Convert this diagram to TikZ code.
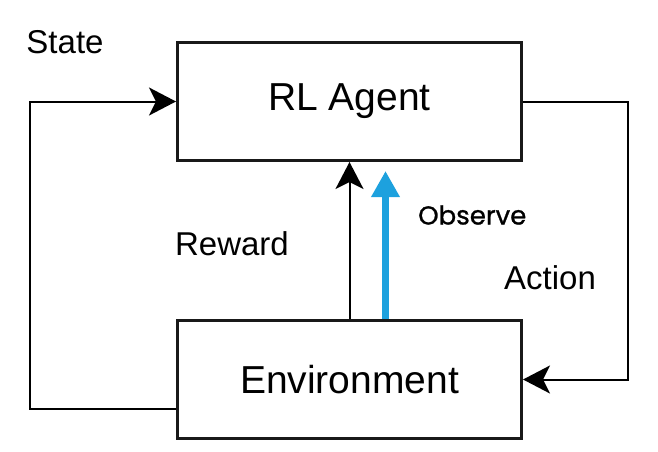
\documentclass[tikz,border=0pt]{standalone}
\usepackage{fontspec}
\setmainfont{Liberation Sans}
\newfontfamily\obsfont[FakeBold=1]{Poppins}
\usetikzlibrary{positioning,arrows.meta}
\definecolor{observeblue}{RGB}{29,161,222}

\begin{document}
\begin{tikzpicture}[x=1pt, y=-1pt,
				block/.style={rectangle, draw=black!90, line width=3pt, minimum width=344pt, minimum height=118pt, font=\fontsize{39}{44}\selectfont},
				label/.style={rectangle, inner sep=0pt, font=\fontsize{33}{38}\selectfont},
				flow/.style={line width=2pt, -{Stealth[length=27pt, width=28pt, inset=7pt]}}
			]
			\useasboundingbox (0,0) rectangle (658,452);
			\node[block] (agent) at (349.5,101.5) {RL Agent};
			\node[block] (env) [below=157pt of agent] {Environment};
			\node[label] (stateLabel) at (65,42) {State};
			\node[label] (rewardLabel) at (232,244) {Reward};
			\node[label] (actionLabel) at (550,278) {Action};
			\node[label, anchor=west, font=\obsfont\fontsize{26}{30}\selectfont] (observeLabel) at (418,215) {Observe};
			\begin{scope}[flow]
			\draw ([yshift=-29pt]env.west) -| ([xshift=-146pt]agent.west) -- (agent.west);
			\draw (agent.east) -| ([xshift=105pt]env.east) -- (env.east);
			\draw (env.north) -- (agent.south);
			\end{scope}
			\draw[observeblue, line width=7pt, -{Triangle[length=26pt, width=27pt]}] ([xshift=36pt]env.north) -- ([xshift=36pt, yshift=-9pt]agent.south);
			\end{tikzpicture}
\end{document}
